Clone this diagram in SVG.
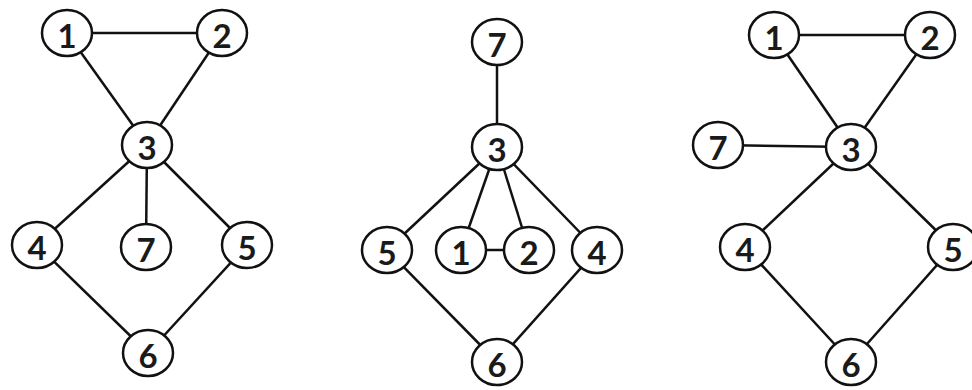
<svg xmlns="http://www.w3.org/2000/svg" width="972" height="390" viewBox="0 0 972 390">
<style>
.n ellipse{fill:#fff;stroke:#111;stroke-width:2.5}
.n text{font-family:Lato,"Open Sans",sans-serif;font-size:33px;font-weight:bold;fill:#1a1a1a;text-anchor:middle;dominant-baseline:central}
#edges line{stroke:#111;stroke-width:2.5}
</style>
<rect width="972" height="390" fill="#fff"/>
<g id="edges">
<line x1="67" y1="33" x2="222" y2="33"/>
<line x1="67" y1="33" x2="147" y2="145"/>
<line x1="222" y1="33" x2="147" y2="145"/>
<line x1="147" y1="145" x2="37" y2="245"/>
<line x1="147" y1="145" x2="146" y2="247"/>
<line x1="147" y1="145" x2="247" y2="245"/>
<line x1="37" y1="245" x2="148" y2="353"/>
<line x1="247" y1="245" x2="148" y2="353"/>
<line x1="497" y1="42" x2="497" y2="147"/>
<line x1="497" y1="147" x2="387" y2="250"/>
<line x1="497" y1="147" x2="461" y2="250"/>
<line x1="497" y1="147" x2="529" y2="250"/>
<line x1="497" y1="147" x2="597" y2="250"/>
<line x1="461" y1="250" x2="529" y2="250"/>
<line x1="387" y1="250" x2="497" y2="362"/>
<line x1="597" y1="250" x2="497" y2="362"/>
<line x1="774" y1="35" x2="930" y2="35"/>
<line x1="774" y1="35" x2="851" y2="147"/>
<line x1="930" y1="35" x2="851" y2="147"/>
<line x1="718" y1="145" x2="851" y2="147"/>
<line x1="851" y1="147" x2="745" y2="247"/>
<line x1="851" y1="147" x2="953" y2="247"/>
<line x1="745" y1="247" x2="851" y2="362"/>
<line x1="953" y1="247" x2="851" y2="362"/>
</g>
<g id="a1" class="n"><ellipse cx="67" cy="33" rx="25" ry="23"/><text x="67" y="35">1</text></g>
<g id="a2" class="n"><ellipse cx="222" cy="33" rx="25" ry="23"/><text x="222" y="35">2</text></g>
<g id="a3" class="n"><ellipse cx="147" cy="145" rx="25" ry="23"/><text x="147" y="147">3</text></g>
<g id="a4" class="n"><ellipse cx="37" cy="245" rx="25" ry="23"/><text x="37" y="247">4</text></g>
<g id="a7" class="n"><ellipse cx="146" cy="247" rx="25" ry="23"/><text x="146" y="249">7</text></g>
<g id="a5" class="n"><ellipse cx="247" cy="245" rx="25" ry="23"/><text x="247" y="247">5</text></g>
<g id="a6" class="n"><ellipse cx="148" cy="353" rx="25" ry="23"/><text x="148" y="355">6</text></g>
<g id="b7" class="n"><ellipse cx="497" cy="42" rx="25" ry="23"/><text x="497" y="44">7</text></g>
<g id="b3" class="n"><ellipse cx="497" cy="147" rx="25" ry="23"/><text x="497" y="149">3</text></g>
<g id="b5" class="n"><ellipse cx="387" cy="250" rx="25" ry="23"/><text x="387" y="252">5</text></g>
<g id="b1" class="n"><ellipse cx="461" cy="250" rx="25" ry="23"/><text x="461" y="252">1</text></g>
<g id="b2" class="n"><ellipse cx="529" cy="250" rx="25" ry="23"/><text x="529" y="252">2</text></g>
<g id="b4" class="n"><ellipse cx="597" cy="250" rx="25" ry="23"/><text x="597" y="252">4</text></g>
<g id="b6" class="n"><ellipse cx="497" cy="362" rx="25" ry="23"/><text x="497" y="364">6</text></g>
<g id="c1" class="n"><ellipse cx="774" cy="35" rx="25" ry="23"/><text x="774" y="37">1</text></g>
<g id="c2" class="n"><ellipse cx="930" cy="35" rx="25" ry="23"/><text x="930" y="37">2</text></g>
<g id="c7" class="n"><ellipse cx="718" cy="145" rx="25" ry="23"/><text x="718" y="147">7</text></g>
<g id="c3" class="n"><ellipse cx="851" cy="147" rx="25" ry="23"/><text x="851" y="149">3</text></g>
<g id="c4" class="n"><ellipse cx="745" cy="247" rx="25" ry="23"/><text x="745" y="249">4</text></g>
<g id="c5" class="n"><ellipse cx="953" cy="247" rx="25" ry="23"/><text x="953" y="249">5</text></g>
<g id="c6" class="n"><ellipse cx="851" cy="362" rx="25" ry="23"/><text x="851" y="364">6</text></g>
</svg>
